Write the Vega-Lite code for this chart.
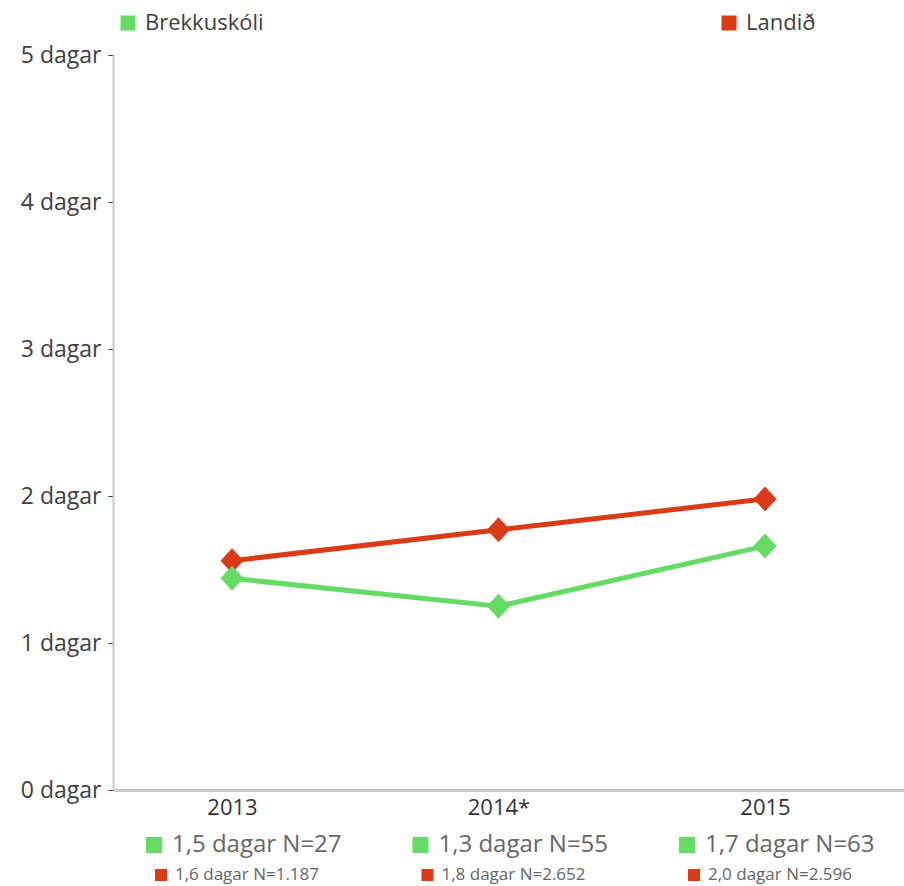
{
  "$schema": "https://vega.github.io/schema/vega-lite/v6.json",
  "autosize": {"type": "none"},
  "padding": {"left": 113, "top": 55, "right": 0, "bottom": 96},
  "width": 791,
  "height": 735,
  "background": "white",
  "config": {
    "view": {"stroke": null},
    "font": "Open Sans",
    "axis": {"grid": false, "title": null, "labelFont": "Open Sans", "labelColor": "#404040"},
    "legend": {"labelFont": "Open Sans"}
  },
  "data": {
    "values": [
      {"year": 2013, "series": "Landið", "value": 1.56, "label": "1,6 dagar N=1.187"},
      {"year": 2014, "series": "Landið", "value": 1.77, "label": "1,8 dagar N=2.652"},
      {"year": 2015, "series": "Landið", "value": 1.98, "label": "2,0 dagar N=2.596"},
      {"year": 2013, "series": "Brekkuskóli", "value": 1.44, "label": "1,5 dagar N=27"},
      {"year": 2014, "series": "Brekkuskóli", "value": 1.25, "label": "1,3 dagar N=55"},
      {"year": 2015, "series": "Brekkuskóli", "value": 1.66, "label": "1,7 dagar N=63"}
    ]
  },
  "encoding": {
    "x": {
      "field": "year",
      "type": "quantitative",
      "scale": {"domain": [2012.5535, 2015.5216], "nice": false, "zero": false},
      "axis": {
        "values": [2013, 2014, 2015],
        "format": "d",
        "labelExpr": "datum.value == 2014 ? '2014*' : datum.label",
        "ticks": false,
        "domainColor": "#c8c8c8",
        "domainWidth": 3,
        "labelFontSize": 22,
        "labelPadding": 7,
        "labelColor": "#333333"
      }
    },
    "y": {
      "field": "value",
      "type": "quantitative",
      "scale": {"domain": [0, 5], "nice": false},
      "axis": {
        "values": [0, 1, 2, 3, 4, 5],
        "labelExpr": "datum.value + ' dagar'",
        "domainColor": "#c8c8c8",
        "domainWidth": 2,
        "tickColor": "#333333",
        "tickSize": 5,
        "labelPadding": 7,
        "labelFontSize": 23
      }
    }
  },
  "layer": [
    {
      "encoding": {
        "color": {
          "field": "series",
          "type": "nominal",
          "scale": {"domain": ["Brekkuskóli", "Landið"], "range": ["#64DC64", "#DC3A14"]},
          "legend": {
            "title": null,
            "orient": "top",
            "offset": 17,
            "padding": 4,
            "direction": "horizontal",
            "columnPadding": 454,
            "symbolType": "square",
            "symbolSize": 225,
            "labelFontSize": 22,
            "labelColor": "#404040",
            "labelOffset": 6,
            "encode": {
              "symbols": {
                "update": {
                  "fill": {"scale": "color", "field": "value"},
                  "strokeWidth": {"value": 0},
                  "opacity": {"value": 1}
                }
              }
            }
          }
        }
      },
      "layer": [
        {"mark": {"type": "line", "strokeWidth": 5}},
        {"mark": {"type": "point", "filled": true, "opacity": 1, "strokeWidth": 0, "shape": "M-0.92,0L0,-1L0.92,0L0,1Z", "size": 625}}
      ]
    },
    {
      "transform": [{"filter": "datum.series == 'Brekkuskóli'"}],
      "mark": {"type": "point", "shape": "square", "filled": true, "opacity": 1, "size": 256, "color": "#64DC64", "xOffset": -78, "yOffset": 55},
      "encoding": {"y": {"datum": 0}}
    },
    {
      "transform": [{"filter": "datum.series == 'Brekkuskóli'"}],
      "mark": {"type": "text", "align": "left", "baseline": "middle", "fontSize": 24, "color": "#666666", "dx": -60, "dy": 55},
      "encoding": {"y": {"datum": 0}, "text": {"field": "label"}}
    },
    {
      "transform": [{"filter": "datum.series == 'Landið'"}],
      "mark": {"type": "point", "shape": "square", "filled": true, "opacity": 1, "size": 144, "color": "#DC3A14", "xOffset": -71, "yOffset": 85},
      "encoding": {"y": {"datum": 0}}
    },
    {
      "transform": [{"filter": "datum.series == 'Landið'"}],
      "mark": {"type": "text", "align": "left", "baseline": "middle", "fontSize": 17, "color": "#666666", "dx": -57, "dy": 85},
      "encoding": {"y": {"datum": 0}, "text": {"field": "label"}}
    }
  ]
}
